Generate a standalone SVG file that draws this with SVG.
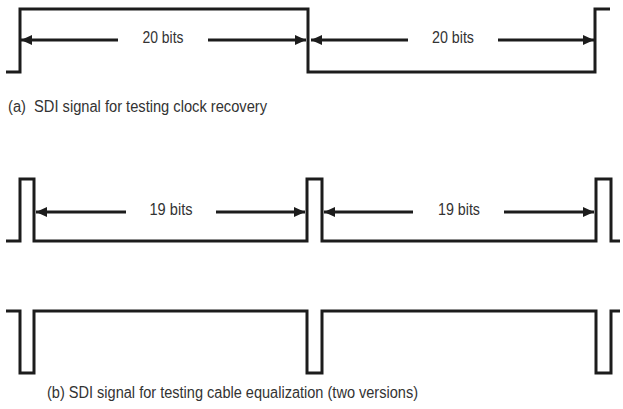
<svg xmlns="http://www.w3.org/2000/svg" width="623" height="409" viewBox="0 0 623 409">
  <style>
    .wave { fill: none; stroke: #1c1c1c; stroke-width: 3; stroke-linejoin: miter; stroke-linecap: butt; }
    .dim { stroke: #1c1c1c; stroke-width: 3; marker-end: url(#head); }
    .lbl { font-family: "Liberation Sans", Arial, sans-serif; font-size: 17px; fill: #333; text-anchor: middle; }
    .cap { font-family: "Liberation Sans", Arial, sans-serif; font-size: 16px; fill: #333; }
  </style>
  <defs>
    <marker id="head" markerUnits="userSpaceOnUse" markerWidth="12" markerHeight="10" refX="11" refY="5" orient="auto">
      <path d="M0,0 L11,5 L0,10 Z" fill="#1c1c1c"/>
    </marker>
  </defs>

  <rect width="623" height="409" fill="#fff"/>

  <!-- (a) clock recovery pattern: 20 high bits, 20 low bits -->
  <g id="wave-a">
    <path class="wave" d="M6,72 H20 V9 H308 V72 H595 V9 H610"/>
  </g>
  <g id="dims-a">
    <line class="dim" x1="118" y1="40" x2="21" y2="40"/>
    <line class="dim" x1="208" y1="40" x2="306" y2="40"/>
    <line class="dim" x1="408" y1="40" x2="311" y2="40"/>
    <line class="dim" x1="498" y1="40" x2="594" y2="40"/>
    <text class="lbl" x="163" y="43" textLength="41" lengthAdjust="spacingAndGlyphs">20 bits</text>
    <text class="lbl" x="453" y="43" textLength="42" lengthAdjust="spacingAndGlyphs">20 bits</text>
  </g>
  <text class="cap" x="8" y="112" textLength="259" lengthAdjust="spacingAndGlyphs" xml:space="preserve">(a)  SDI signal for testing clock recovery</text>

  <!-- (b) cable equalization pattern: single pulse then 19 bits -->
  <g id="wave-b1">
    <path class="wave" d="M6,241 H20 V179 H34 V241 H307 V179 H322 V241 H596 V179 H611 V241 H620"/>
  </g>
  <g id="dims-b">
    <line class="dim" x1="126" y1="212" x2="36" y2="212"/>
    <line class="dim" x1="216" y1="212" x2="305" y2="212"/>
    <line class="dim" x1="413" y1="212" x2="324" y2="212"/>
    <line class="dim" x1="504" y1="212" x2="594" y2="212"/>
    <text class="lbl" x="171" y="215" textLength="43" lengthAdjust="spacingAndGlyphs">19 bits</text>
    <text class="lbl" x="459" y="215" textLength="42" lengthAdjust="spacingAndGlyphs">19 bits</text>
  </g>

  <g id="wave-b2">
    <path class="wave" d="M6,311 H20 V373 H34 V311 H307 V373 H322 V311 H596 V373 H611 V311 H620"/>
  </g>
  <text class="cap" x="47" y="398" textLength="371" lengthAdjust="spacingAndGlyphs">(b) SDI signal for testing cable equalization (two versions)</text>
</svg>
